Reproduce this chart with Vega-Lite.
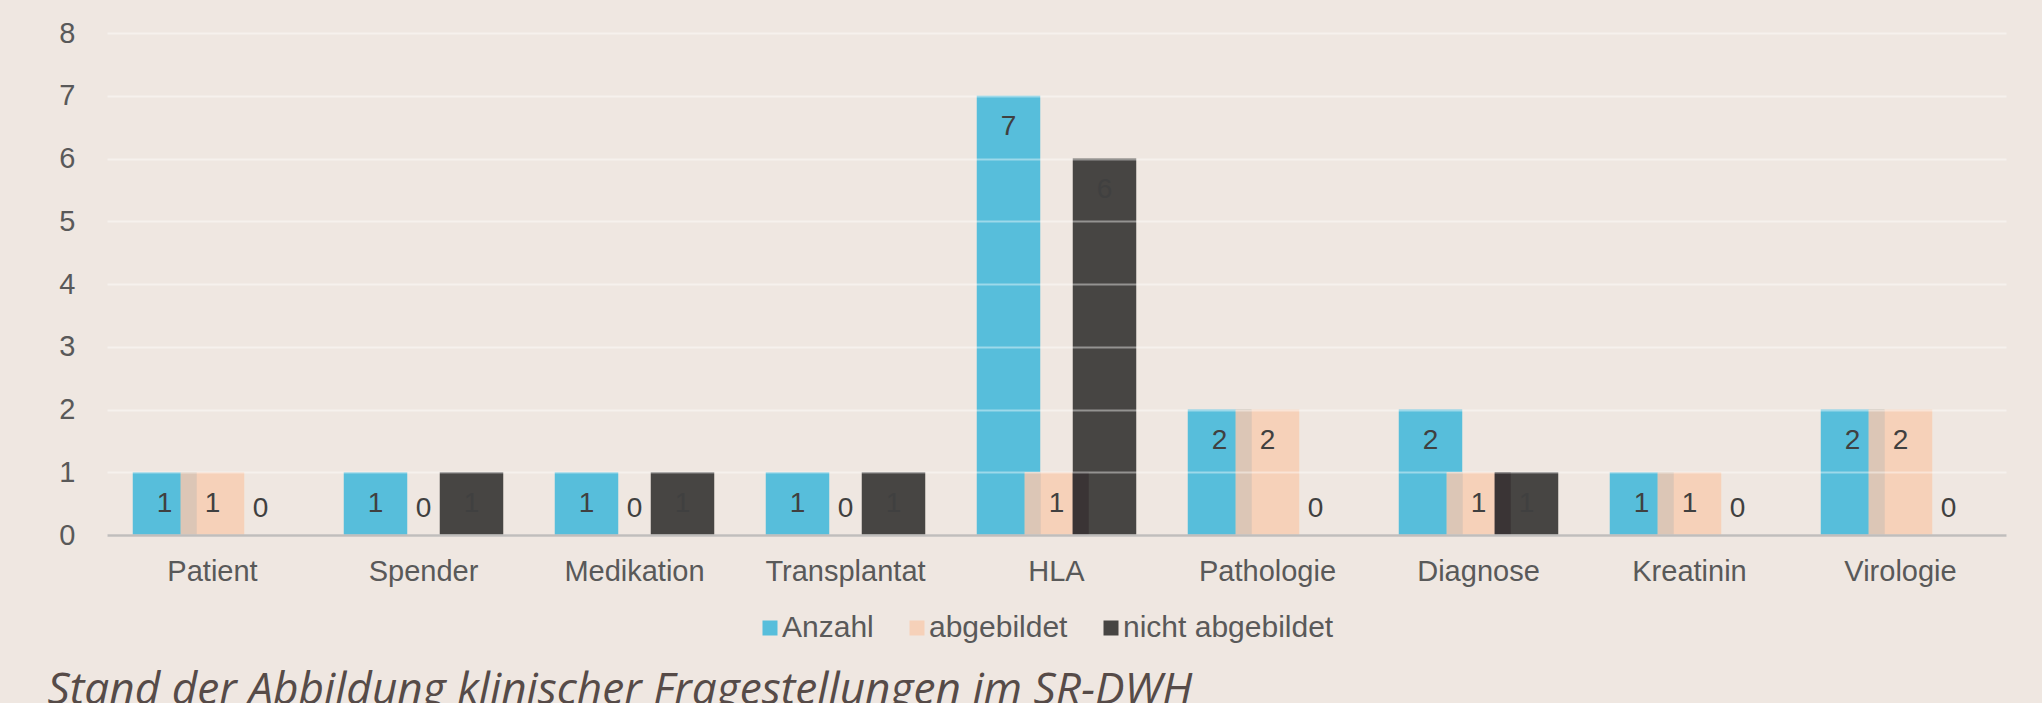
{
  "$schema": "https://vega.github.io/schema/vega-lite/v6.json",
  "autosize": {"type": "none"},
  "width": 1899,
  "height": 502,
  "padding": {"left": 107, "top": 33, "right": 36, "bottom": 168},
  "background": "#efe7e1",
  "config": {
    "view": {"stroke": null},
    "font": "Liberation Sans"
  },
  "datasets": {
    "werte": [
      {"kategorie": "Patient", "serie": "Anzahl", "wert": 1},
      {"kategorie": "Patient", "serie": "abgebildet", "wert": 1},
      {"kategorie": "Patient", "serie": "nicht abgebildet", "wert": 0},
      {"kategorie": "Spender", "serie": "Anzahl", "wert": 1},
      {"kategorie": "Spender", "serie": "abgebildet", "wert": 0},
      {"kategorie": "Spender", "serie": "nicht abgebildet", "wert": 1},
      {"kategorie": "Medikation", "serie": "Anzahl", "wert": 1},
      {"kategorie": "Medikation", "serie": "abgebildet", "wert": 0},
      {"kategorie": "Medikation", "serie": "nicht abgebildet", "wert": 1},
      {"kategorie": "Transplantat", "serie": "Anzahl", "wert": 1},
      {"kategorie": "Transplantat", "serie": "abgebildet", "wert": 0},
      {"kategorie": "Transplantat", "serie": "nicht abgebildet", "wert": 1},
      {"kategorie": "HLA", "serie": "Anzahl", "wert": 7},
      {"kategorie": "HLA", "serie": "abgebildet", "wert": 1},
      {"kategorie": "HLA", "serie": "nicht abgebildet", "wert": 6},
      {"kategorie": "Pathologie", "serie": "Anzahl", "wert": 2},
      {"kategorie": "Pathologie", "serie": "abgebildet", "wert": 2},
      {"kategorie": "Pathologie", "serie": "nicht abgebildet", "wert": 0},
      {"kategorie": "Diagnose", "serie": "Anzahl", "wert": 2},
      {"kategorie": "Diagnose", "serie": "abgebildet", "wert": 1},
      {"kategorie": "Diagnose", "serie": "nicht abgebildet", "wert": 1},
      {"kategorie": "Kreatinin", "serie": "Anzahl", "wert": 1},
      {"kategorie": "Kreatinin", "serie": "abgebildet", "wert": 1},
      {"kategorie": "Kreatinin", "serie": "nicht abgebildet", "wert": 0},
      {"kategorie": "Virologie", "serie": "Anzahl", "wert": 2},
      {"kategorie": "Virologie", "serie": "abgebildet", "wert": 2},
      {"kategorie": "Virologie", "serie": "nicht abgebildet", "wert": 0}
    ],
    "schatten": [
      {"kategorie": "Patient", "serie": "abgebildet", "wert": 1},
      {"kategorie": "HLA", "serie": "abgebildet", "wert": 1},
      {"kategorie": "HLA", "serie": "nicht abgebildet", "wert": 1},
      {"kategorie": "Pathologie", "serie": "abgebildet", "wert": 2},
      {"kategorie": "Diagnose", "serie": "abgebildet", "wert": 1},
      {"kategorie": "Diagnose", "serie": "nicht abgebildet", "wert": 1},
      {"kategorie": "Kreatinin", "serie": "abgebildet", "wert": 1},
      {"kategorie": "Virologie", "serie": "abgebildet", "wert": 2}
    ]
  },
  "resolve": {"scale": {"xOffset": "independent", "fill": "independent"}},
  "encoding": {
    "x": {
      "field": "kategorie",
      "type": "nominal",
      "scale": {"domain": ["Patient", "Spender", "Medikation", "Transplantat", "HLA", "Pathologie", "Diagnose", "Kreatinin", "Virologie"], "paddingInner": 0, "paddingOuter": 0},
      "axis": {
        "title": "Stand der Abbildung klinischer Fragestellungen im SR-DWH",
        "titleFont": "Open Sans",
        "titleFontStyle": "italic",
        "titleFontWeight": "normal",
        "titleFontSize": 44.2,
        "titleColor": "#564b48",
        "titleAnchor": "start",
        "titleAlign": "left",
        "titleBaseline": "alphabetic",
        "titleX": -60,
        "titleY": 168,
        "labelAngle": 0,
        "labelFontSize": 29,
        "labelColor": "#595959",
        "labelPadding": 22,
        "ticks": false,
        "tickSize": 0,
        "domainColor": "#c0bebc",
        "domainWidth": 2.5,
        "grid": false,
        "zindex": 1
      }
    },
    "y": {
      "field": "wert",
      "type": "quantitative",
      "scale": {"domain": [0, 8], "nice": false},
      "axis": {
        "title": null,
        "values": [0, 1, 2, 3, 4, 5, 6, 7, 8],
        "labelFontSize": 29,
        "labelColor": "#595959",
        "labelPadding": 32,
        "ticks": false,
        "tickSize": 0,
        "domain": false,
        "gridColor": "#ffffff",
        "gridOpacity": 0.42,
        "gridWidth": 2,
        "zindex": 1
      }
    }
  },
  "layer": [
    {
      "data": {"name": "werte"},
      "mark": {"type": "bar", "width": 63.5},
      "encoding": {
        "xOffset": {
          "field": "serie",
          "type": "nominal",
          "scale": {"type": "band", "domain": ["Anzahl", "abgebildet", "nicht abgebildet"], "paddingInner": 0, "paddingOuter": 0.698}
        },
        "fill": {
          "field": "serie",
          "type": "nominal",
          "scale": {"domain": ["Anzahl", "abgebildet", "nicht abgebildet"], "range": ["#57bedb", "#f6d1b9", "#474543"]},
          "legend": {
            "title": null,
            "orient": "none",
            "direction": "horizontal",
            "legendX": 648,
            "legendY": 580,
            "symbolType": "square",
            "symbolSize": 225,
            "symbolStrokeWidth": 0,
            "labelFontSize": 30,
            "labelColor": "#595959",
            "labelOffset": -3,
            "labelLimit": 500,
            "columnPadding": 28,
            "padding": 0
          }
        }
      }
    },
    {
      "data": {"name": "schatten"},
      "mark": {"type": "bar", "width": 16},
      "encoding": {
        "xOffset": {
          "field": "serie",
          "type": "nominal",
          "scale": {"type": "band", "domain": ["Anzahl", "abgebildet", "nicht abgebildet"], "paddingInner": 0, "paddingOuter": 0.698, "align": 0.1455}
        },
        "fill": {
          "field": "serie",
          "type": "nominal",
          "scale": {"domain": ["abgebildet", "nicht abgebildet"], "range": ["#dcc6b6", "#3a3435"]},
          "legend": null
        }
      }
    },
    {
      "data": {"name": "werte"},
      "transform": [{"filter": "datum.wert > 0"}],
      "mark": {"type": "text", "fontSize": 28, "color": "#404040", "baseline": "alphabetic", "dy": 39.5},
      "encoding": {
        "xOffset": {
          "field": "serie",
          "type": "nominal",
          "scale": {"type": "band", "domain": ["Anzahl", "abgebildet", "nicht abgebildet"], "paddingInner": 0, "paddingOuter": 0.698}
        },
        "text": {"field": "wert", "type": "quantitative"}
      }
    },
    {
      "data": {"name": "werte"},
      "transform": [{"filter": "datum.wert == 0"}],
      "mark": {"type": "text", "fontSize": 28, "color": "#404040", "baseline": "alphabetic", "dy": -18},
      "encoding": {
        "xOffset": {
          "field": "serie",
          "type": "nominal",
          "scale": {"type": "band", "domain": ["Anzahl", "abgebildet", "nicht abgebildet"], "paddingInner": 0, "paddingOuter": 0.698}
        },
        "text": {"field": "wert", "type": "quantitative"}
      }
    }
  ]
}
